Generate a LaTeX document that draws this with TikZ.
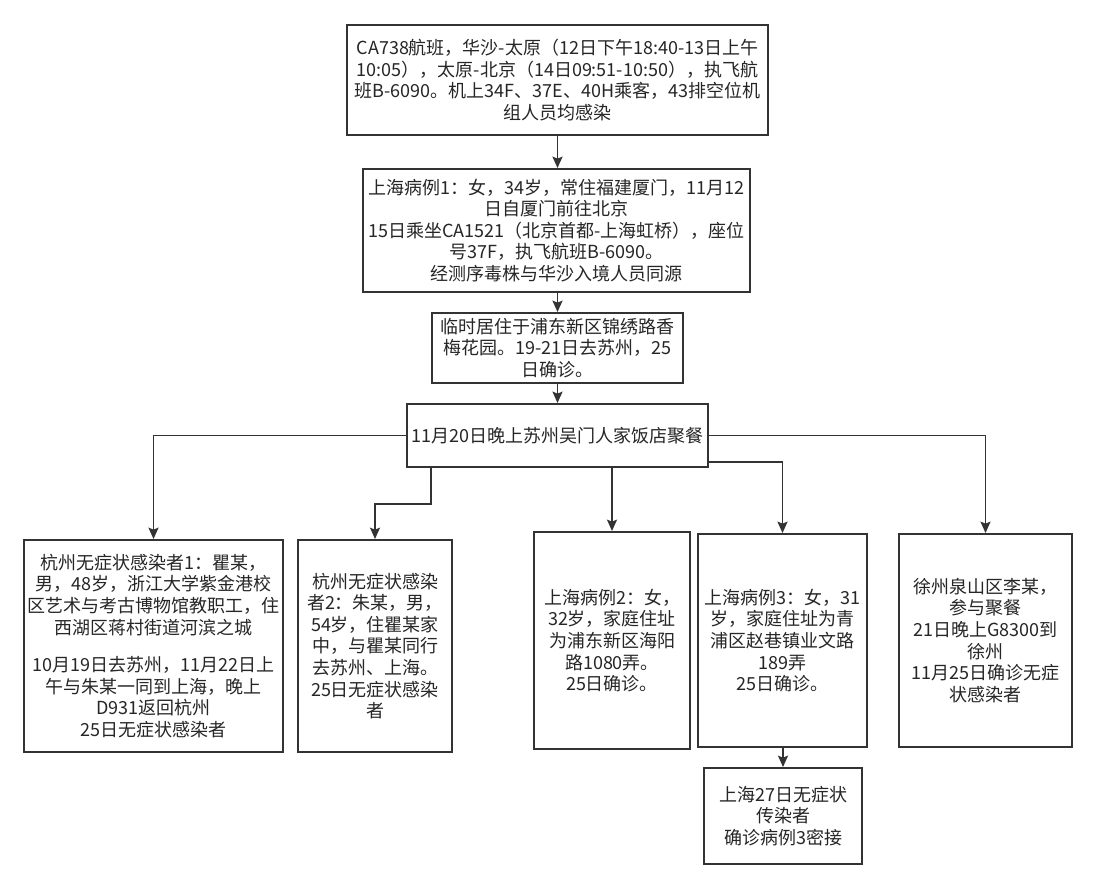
\documentclass[tikz,border=0pt]{standalone}
\usepackage{fontspec}
\setmainfont{Noto Sans CJK SC}
\usetikzlibrary{arrows.meta}
\definecolor{lc}{HTML}{333333}
\definecolor{tc}{HTML}{262626}
\begin{document}
\begin{tikzpicture}[x=0.75pt,y=-0.75pt,
  box/.style={draw=lc, line width=1.5pt, align=center, inner sep=0pt, text=tc,
    font=\fontsize{13.5}{16.2}\selectfont},
  arr/.style={draw=lc, line width=1.4pt, -{Stealth[length=8.5pt,width=7.5pt,inset=1.5pt]}}]
\useasboundingbox[fill=white] (0,0) rectangle (1095,888);

\node[box, minimum width=315.75pt, minimum height=82.5pt] (top) at (557.5,80)
  {CA738航班，华沙-太原（12日下午18:40-13日上午\\10:05），太原-北京（14日09:51-10:50），执飞航\\班B-6090。机上34F、37E、40H乘客，43排空位机\\组人员均感染};
\node[box, minimum width=290.25pt, minimum height=92.25pt] (b2) at (556.5,230.5)
  {上海病例1：女，34岁，常住福建厦门，11月12\\日自厦门前往北京\\15日乘坐CA1521（北京首都-上海虹桥），座位\\号37F，执飞航班B-6090。\\经测序毒株与华沙入境人员同源};
\node[box, minimum width=188.25pt, minimum height=52.5pt] (b3) at (557.5,348)
  {临时居住于浦东新区锦绣路香\\梅花园。19-21日去苏州，25\\日确诊。};
\node[box, minimum width=225.75pt, minimum height=47.25pt] (b4) at (557.5,435.5)
  {11月20日晚上苏州吴门人家饭店聚餐};

\node[box, minimum width=194.25pt, minimum height=159pt] (l1) at (153.5,646)
  {杭州无症状感染者1：瞿某，\\男，48岁，浙江大学紫金港校\\区艺术与考古博物馆教职工，住\\西湖区蒋村街道河滨之城\\[12pt]10月19日去苏州，11月22日上\\午与朱某一同到上海，晚上\\D931返回杭州\\25日无症状感染者};
\node[box, minimum width=115.5pt, minimum height=159pt] (l2) at (375,646)
  {杭州无症状感染\\者2：朱某，男，\\54岁，住瞿某家\\中，与瞿某同行\\去苏州、上海。\\25日无症状感染\\者};
\node[box, minimum width=117pt, minimum height=162.75pt] (s2) at (612,640.5)
  {上海病例2：女，\\32岁，家庭住址\\为浦东新区海阳\\路1080弄。\\25日确诊。};
\node[box, minimum width=126.75pt, minimum height=159.75pt] (s3) at (782.5,640.5)
  {上海病例3：女，31\\岁，家庭住址为青\\浦区赵巷镇业文路\\189弄\\25日确诊。};
\node[box, minimum width=129.75pt, minimum height=159.75pt] (xz) at (985.5,640.5)
  {徐州泉山区李某，\\参与聚餐\\21日晚上G8300到\\徐州\\11月25日确诊无症\\状感染者};
\node[box, minimum width=118.5pt, minimum height=72pt] (s8) at (783,816)
  {上海27日无症状\\传染者\\确诊病例3密接};

\draw[arr] (top.south) -- (top.south |- b2.north);
\draw[arr] (b2.south -| b3.north) -- (b3.north);
\draw[arr] (b3.south) -- (b4.north);
\draw[arr] (b4.west) -| (l1.north);
\draw[arr] ([xshift=18.75pt]b4.south west) -- ++(0,36) -| (l2.north);
\draw[arr] (b4.south -| s2.north) -- (s2.north);
\draw[arr] ([yshift=4.5pt]b4.south east) -| (s3.north);
\draw[arr] (b4.east) -| (xz.north);
\draw[arr] (s3.south -| s8.north) -- (s8.north);
\end{tikzpicture}
\end{document}
